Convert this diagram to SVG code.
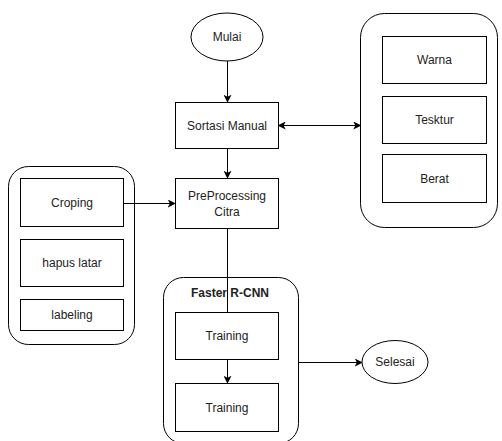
<svg xmlns="http://www.w3.org/2000/svg" width="502" height="441" viewBox="0 0 502 441">
  <style>
    .box { fill: #ffffff; stroke: #000000; stroke-width: 1; }
    .grp { fill: #ffffff; stroke: #000000; stroke-width: 1; }
    .lbl { font-family: "Liberation Sans", Arial, sans-serif; font-size: 12px; fill: #222222; text-anchor: middle; dominant-baseline: central; }
    .title { font-weight: bold; }
    .edge { fill: none; stroke: #000000; stroke-width: 1; }
  </style>
  <defs>
    <marker id="arrow" viewBox="0 0 10 10" refX="9" refY="5" markerWidth="8" markerHeight="8" markerUnits="userSpaceOnUse" orient="auto-start-reverse">
      <path d="M0,0 L10,5 L0,10 L2.5,5 Z" fill="#000000"/>
    </marker>
  </defs>
  <rect width="502" height="441" fill="#ffffff"/>

  <!-- containers -->
  <g id="fitur">
    <rect class="grp" x="360.5" y="13.5" width="137" height="214" rx="24"/>
  </g>
  <g id="pra-olah">
    <rect class="grp" x="8.5" y="166.5" width="126" height="178" rx="20"/>
  </g>
  <g id="faster-rcnn">
    <rect class="grp" x="163.5" y="277.5" width="135" height="166" rx="20"/>
    <text class="lbl title" x="230" y="293">Faster R-CNN</text>
  </g>

  <!-- connectors -->
  <g id="connectors">
    <line class="edge" x1="227.5" y1="61" x2="227.5" y2="102" marker-end="url(#arrow)"/>
    <line class="edge" x1="227.5" y1="148" x2="227.5" y2="178" marker-end="url(#arrow)"/>
    <line class="edge" x1="278.5" y1="125.5" x2="360.5" y2="125.5" marker-start="url(#arrow)" marker-end="url(#arrow)"/>
    <line class="edge" x1="123.5" y1="203.5" x2="175" y2="203.5" marker-end="url(#arrow)"/>
    <line class="edge" x1="227.5" y1="228" x2="227.5" y2="312.5"/>
    <line class="edge" x1="227.5" y1="359" x2="227.5" y2="383" marker-end="url(#arrow)"/>
    <line class="edge" x1="298.5" y1="362.5" x2="362" y2="362.5" marker-end="url(#arrow)"/>
  </g>

  <!-- nodes -->
  <g id="mulai">
    <ellipse class="box" cx="227" cy="37" rx="36" ry="24"/>
    <text class="lbl" x="227" y="37">Mulai</text>
  </g>
  <g id="sortasi-manual">
    <rect class="box" x="175.5" y="102.5" width="103" height="46"/>
    <text class="lbl" x="227" y="125.5">Sortasi Manual</text>
  </g>
  <g id="preprocessing">
    <rect class="box" x="175.5" y="178.5" width="103" height="50"/>
    <text class="lbl" x="227" y="196">PreProcessing</text>
    <text class="lbl" x="227" y="212">Citra</text>
  </g>
  <g id="warna">
    <rect class="box" x="382.5" y="36.5" width="104" height="47"/>
    <text class="lbl" x="434.5" y="60">Warna</text>
  </g>
  <g id="tesktur">
    <rect class="box" x="382.5" y="96.5" width="104" height="47"/>
    <text class="lbl" x="434.5" y="120">Tesktur</text>
  </g>
  <g id="berat">
    <rect class="box" x="382.5" y="154.5" width="104" height="48"/>
    <text class="lbl" x="434.5" y="178.5">Berat</text>
  </g>
  <g id="croping">
    <rect class="box" x="20.5" y="178.5" width="103" height="48"/>
    <text class="lbl" x="72" y="202.5">Croping</text>
  </g>
  <g id="hapus-latar">
    <rect class="box" x="20.5" y="239.5" width="103" height="47"/>
    <text class="lbl" x="72" y="263">hapus latar</text>
  </g>
  <g id="labeling">
    <rect class="box" x="20.5" y="299.5" width="103" height="31"/>
    <text class="lbl" x="72" y="315">labeling</text>
  </g>
  <g id="training-1">
    <rect class="box" x="175.5" y="312.5" width="103" height="47"/>
    <text class="lbl" x="227" y="336">Training</text>
  </g>
  <g id="training-2">
    <rect class="box" x="175.5" y="383.5" width="103" height="48"/>
    <text class="lbl" x="227" y="407.5">Training</text>
  </g>
  <g id="selesai">
    <ellipse class="box" cx="395" cy="362" rx="33" ry="21.5"/>
    <text class="lbl" x="395" y="362">Selesai</text>
  </g>
</svg>
